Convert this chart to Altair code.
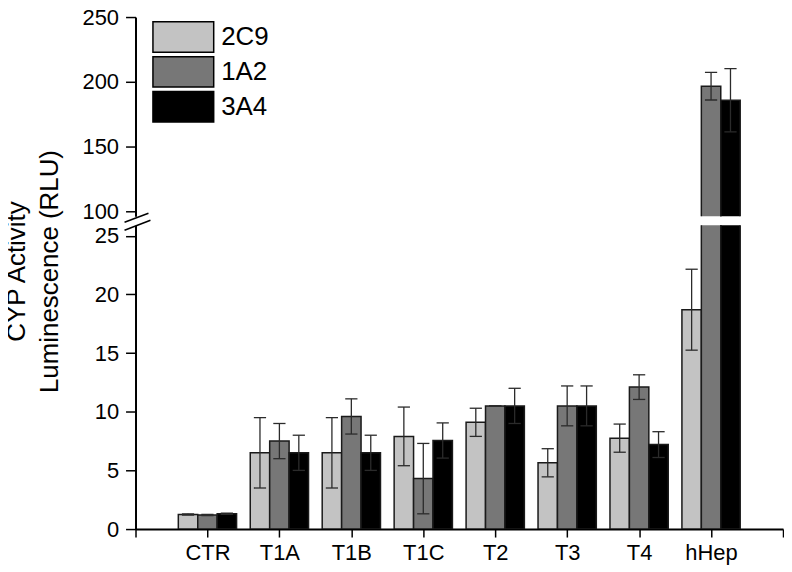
import altair as alt
import pandas as pd

categories = ["CTR", "T1A", "T1B", "T1C", "T2", "T3", "T4", "hHep"]
series = ["2C9", "1A2", "3A4"]
colors = ["#c3c3c3", "#777777", "#000000"]

v_2C9 = [1.25, 6.5, 6.5, 7.9, 9.1, 5.65, 7.75, 18.7]
e_2C9 = [0.05, 3.0, 3.0, 2.5, 1.2, 1.2, 1.2, 3.45]
v_1A2 = [1.2, 7.5, 9.6, 4.3, 10.5, 10.5, 12.1, 196.7]
e_1A2 = [0.05, 1.5, 1.5, 3.0, 0.0, 1.7, 1.05, 10.6]
v_3A4 = [1.3, 6.5, 6.5, 7.55, 10.5, 10.5, 7.2, 185.9]
e_3A4 = [0.05, 1.5, 1.5, 1.5, 1.5, 1.7, 1.1, 24.3]

values = {"2C9": v_2C9, "1A2": v_1A2, "3A4": v_3A4}
errors = {"2C9": e_2C9, "1A2": e_1A2, "3A4": e_3A4}

rows = []
for si, s in enumerate(series):
    for ci, c in enumerate(categories):
        rows.append({"cat": c, "idx": ci + 1, "sidx": si, "series": s,
                     "value": values[s][ci], "err": errors[s][ci]})
df = pd.DataFrame(rows)

FONT = "Liberation Sans"
BW = 0.27

base = alt.Chart(df).transform_calculate(
    pos=f"datum.idx + (datum.sidx - 1) * {BW}",
).transform_calculate(
    x1=f"datum.pos - {BW/2}",
    x2=f"datum.pos + {BW/2}",
    c1="datum.pos - 0.085",
    c2="datum.pos + 0.085",
    lo="datum.value - datum.err",
    hi="datum.value + datum.err",
)

label_expr = "datum.value % 1 === 0 && datum.value >= 1 && datum.value <= 8 ? " + \
    str(["", *categories]) + "[datum.value] : ''"

x_tick_vals = [i * 0.5 for i in range(19)]


def panel(domain, height, yvals, major_test, y_title, show_x, show_legend):
    xscale = alt.Scale(domain=[0, 9], nice=False, zero=False)
    yscale = alt.Scale(domain=domain, nice=False, zero=False)
    if show_x:
        xaxis = alt.Axis(values=x_tick_vals, labelExpr=label_expr, title=None,
                         grid=False, domainColor="black", domainWidth=2,
                         tickColor="black", tickWidth=1.5,
                         tickSize={"condition": {"test": "datum.value % 1 === 0", "value": 8}, "value": 5},
                         labelFont=FONT, labelFontSize=22, labelColor="black",
                         labelPadding=6, labelFlush=False)
    else:
        xaxis = None
    yaxis_kw = dict(values=yvals, grid=False, domainColor="black", domainWidth=2,
                    tickColor="black", tickWidth=1.5,
                    tickSize={"condition": {"test": major_test, "value": 10}, "value": 5},
                    labelExpr=f"{major_test} ? datum.label : ''",
                    labelFont=FONT, labelFontSize=22, labelColor="black",
                    labelPadding=7, labelFlush=False)
    if y_title:
        yaxis = alt.Axis(title=y_title, titleFont=FONT, titleFontSize=26,
                         titleFontWeight="normal", titleColor="black",
                         titleX=-106, titleY=46, titleLineHeight=33, **yaxis_kw)
    else:
        yaxis = alt.Axis(title=None, **yaxis_kw)
    if show_legend:
        legend = alt.Legend(orient="none", legendX=32, legendY=4, title=None,
                            symbolType="M-2,-1L2,-1L2,1L-2,1Z",
                            symbolSize=930, symbolStrokeColor="black",
                            symbolStrokeWidth=1.5, symbolOpacity=1,
                            labelFont=FONT, labelFontSize=26, labelColor="black",
                            labelOffset=22, rowPadding=-4)
    else:
        legend = None
    color = alt.Color("series:N", scale=alt.Scale(domain=series, range=colors),
                      sort=series, legend=legend)
    bars = base.mark_bar(stroke="#1a1a1a", strokeWidth=1.5, opacity=1, clip=True).encode(
        x=alt.X("x1:Q", scale=xscale, axis=xaxis),
        x2="x2:Q",
        y=alt.Y("value:Q", scale=yscale, axis=yaxis),
        y2=alt.datum(0),
        fill=color,
    )
    err = base.mark_rule(color="#2b2b2b", strokeWidth=1.3, clip=True).encode(
        x="pos:Q", y="lo:Q", y2="hi:Q")
    cap_hi = base.mark_rule(color="#2b2b2b", strokeWidth=1.3, clip=True).encode(
        x="c1:Q", x2="c2:Q", y="hi:Q")
    cap_lo = base.mark_rule(color="#2b2b2b", strokeWidth=1.3, clip=True).encode(
        x="c1:Q", x2="c2:Q", y="lo:Q")
    layers = [bars, err, cap_hi, cap_lo]
    if show_x:
        brk1 = alt.Chart(pd.DataFrame({"k": [0]})).mark_rule(
            color="black", strokeWidth=1.5).encode(
            x=alt.value(-11), x2=alt.value(13), y=alt.value(-3), y2=alt.value(-12))
        brk2 = alt.Chart(pd.DataFrame({"k": [0]})).mark_rule(
            color="black", strokeWidth=1.5).encode(
            x=alt.value(-11), x2=alt.value(15), y=alt.value(5), y2=alt.value(-5))
        layers += [brk1, brk2]
    return alt.layer(*layers).properties(width=650, height=height)


top = panel([96.5, 250], 200, [100 + 25 * i for i in range(7)],
            "datum.value % 50 === 0", None, False, True)
bottom = panel([0, 25.9], 305, [2.5 * i for i in range(11)],
               "datum.value % 5 === 0", ["CYP Activity", "Luminescence (RLU)"], True, False)

chart = alt.vconcat(top, bottom, spacing=9, bounds="flush").resolve_scale(
    color="independent"
).properties(
    padding={"left": -4, "top": -3, "right": 0, "bottom": 0},
    background="white",
).configure_view(stroke=None)

chart.save("out.html", embed_options={"renderer": "svg", "actions": False})
